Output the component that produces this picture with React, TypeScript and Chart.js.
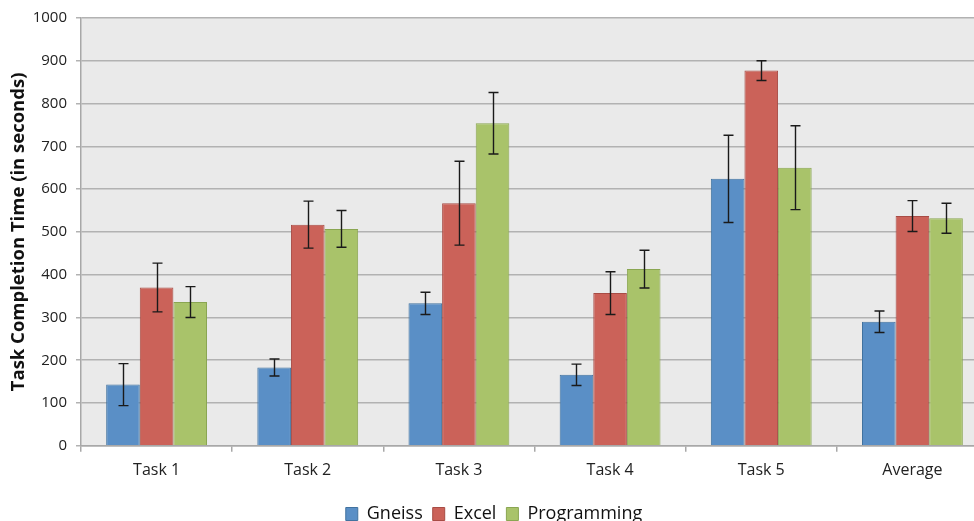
import React, { useEffect, useRef } from "react";
import { Chart, registerables } from "chart.js";

Chart.register(...registerables);

const categories = ["Task 1", "Task 2", "Task 3", "Task 4", "Task 5", "Average"];
const gneiss = [143, 183, 333, 166, 624, 290];
const gneissErr = [49, 20, 26, 25, 102, 25];
const excel = [370, 517, 567, 357, 877, 537];
const excelErr = [57, 55, 98, 50, 23, 36];
const programming = [336, 507, 754, 413, 650, 532];
const programmingErr = [36, 43, 72, 44, 98, 35];
const yTicks = [0, 100, 200, 300, 400, 500, 600, 700, 800, 900, 1000];

const FONT = "'Open Sans', 'DejaVu Sans', sans-serif";

const plotBg = {
  id: "plotBg",
  beforeDraw(chart: any) {
    const { ctx, chartArea } = chart;
    ctx.save();
    ctx.fillStyle = "#EAEAEA";
    ctx.fillRect(chartArea.left, chartArea.top, chartArea.right - chartArea.left, chartArea.bottom - chartArea.top);
    ctx.restore();
  },
};

const errorBars = {
  id: "errorBars",
  afterDatasetsDraw(chart: any) {
    const { ctx } = chart;
    const yScale = chart.scales.y;
    ctx.save();
    ctx.strokeStyle = "#1a1a1a";
    ctx.lineWidth = 1.4;
    chart.data.datasets.forEach((ds: any, i: number) => {
      const meta = chart.getDatasetMeta(i);
      const errs: number[] = ds.errors;
      meta.data.forEach((bar: any, j: number) => {
        const v = ds.data[j];
        const e = errs[j];
        const x = Math.round(bar.x) + 0.5;
        const yt = yScale.getPixelForValue(v + e);
        const yb = yScale.getPixelForValue(v - e);
        ctx.beginPath();
        ctx.moveTo(x, yt);
        ctx.lineTo(x, yb);
        ctx.moveTo(x - 5, yt);
        ctx.lineTo(x + 5, yt);
        ctx.moveTo(x - 5, yb);
        ctx.lineTo(x + 5, yb);
        ctx.stroke();
      });
    });
    ctx.restore();
  },
};

export default function App() {
  const ref = useRef<HTMLCanvasElement | null>(null);
  useEffect(() => {
    document.body.style.margin = "0";
    document.documentElement.style.overflow = "hidden";
    const chart = new Chart(ref.current!, {
      type: "bar",
      data: {
        labels: categories,
        datasets: [
          { label: "Gneiss", data: gneiss, errors: gneissErr, backgroundColor: "#5A8FC6", borderColor: "#41729F", borderWidth: 1 } as any,
          { label: "Excel", data: excel, errors: excelErr, backgroundColor: "#CB6259", borderColor: "#A84C45", borderWidth: 1 } as any,
          { label: "Programming", data: programming, errors: programmingErr, backgroundColor: "#A9C36A", borderColor: "#8AA652", borderWidth: 1 } as any,
        ],
      },
      options: {
        animation: false,
        responsive: true,
        maintainAspectRatio: false,
        layout: { padding: { top: 17, left: 0, right: 0, bottom: 0 } },
        datasets: { bar: { categoryPercentage: 0.667, barPercentage: 1 } },
        plugins: {
          tooltip: { enabled: false },
          legend: {
            position: "bottom",
            labels: {
              font: { family: FONT, size: 18 },
              color: "#111",
              boxWidth: 12,
              boxHeight: 13,
              padding: 10,
            },
          },
        },
        scales: {
          x: {
            grid: { drawOnChartArea: false, drawTicks: true, tickLength: 6, color: "#A8A8A8", lineWidth: 1.5, offset: true },
            border: { color: "#A8A8A8", width: 1.5 },
            ticks: { font: { family: FONT, size: 16 }, color: "#222", padding: 9 },
            afterFit: (s: any) => { s.height += 6; },
          },
          y: {
            min: 0,
            max: 1000,
            afterBuildTicks: (s: any) => { s.ticks = yTicks.map((v) => ({ value: v })); },
            grid: { color: "#B2B2B2", lineWidth: 1.5, tickLength: 5 },
            border: { color: "#A8A8A8", width: 1.5 },
            ticks: { font: { family: FONT, size: 15 }, color: "#222", padding: 9, callback: (v: any) => String(v) },
            title: {
              display: true,
              text: "Task Completion Time (in seconds)",
              font: { family: FONT, size: 18.5, weight: "bold" },
              color: "#111",
              padding: { top: 8, bottom: 0 },
            },
            afterFit: (s: any) => { s.width = 81; },
          },
        },
      } as any,
      plugins: [plotBg, errorBars],
    });
    return () => chart.destroy();
  }, []);
  return (
    <div style={{ width: 988, height: 533, position: "relative" }}>
      <canvas ref={ref} />
    </div>
  );
}
